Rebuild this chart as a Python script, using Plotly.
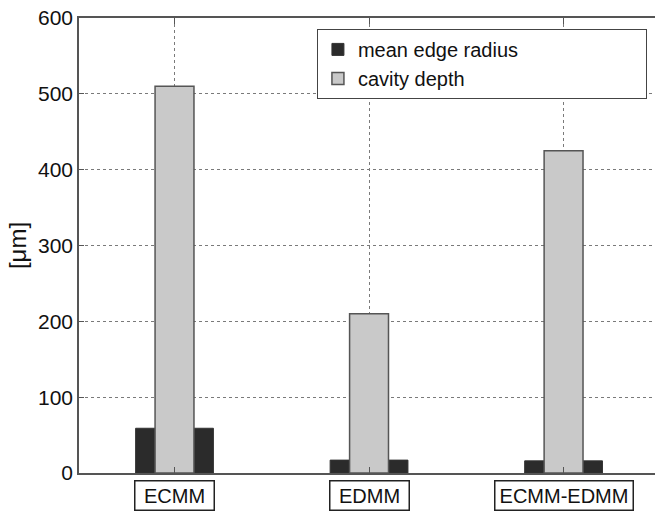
import plotly.graph_objects as go

categories = ["ECMM", "EDMM", "ECMM-EDMM"]
mean_edge_radius = [59, 17, 16]
cavity_depth = [510, 210, 425]
y_ticks = [0, 100, 200, 300, 400, 500, 600]
series_names = ["mean edge radius", "cavity depth"]

xpos = [1, 2, 3]
pad = "\u00a0" * 22

fig = go.Figure()
fig.add_trace(go.Bar(
    x=xpos, y=mean_edge_radius, name=series_names[0] + pad, width=0.40,
    marker=dict(color="#2b2b2b", line=dict(color="#333333", width=1)),
))
fig.add_trace(go.Bar(
    x=xpos, y=cavity_depth, name=series_names[1] + pad, width=0.20,
    marker=dict(color="#c9c9c9", line=dict(color="#555555", width=1.5)),
))

label_widths = [78, 78, 137]
for xp, cat, w in zip(xpos, categories, label_widths):
    fig.add_annotation(
        x=xp, xref="x", y=-0.0505, yref="paper", yanchor="middle",
        text=cat, showarrow=False, width=w, height=28,
        bordercolor="#222222", borderwidth=1.5, borderpad=0,
        bgcolor="white",
        font=dict(family="Liberation Sans, Arial", size=20, color="#111111"),
    )

fig.update_layout(
    width=655, height=511,
    margin=dict(l=79, r=0, t=18, b=38),
    paper_bgcolor="white", plot_bgcolor="white",
    barmode="overlay",
    font=dict(family="Liberation Sans, Arial", size=20, color="#111111"),
    legend=dict(
        x=0.986, xanchor="right", y=0.976, yanchor="top",
        bordercolor="#444444", borderwidth=1, bgcolor="white",
        font=dict(size=20), tracegroupgap=0,
    ),
    xaxis=dict(
        range=[0.509, 3.47], tickvals=xpos, showticklabels=False,
        ticks="inside", ticklen=6, tickcolor="#555555",
        showline=True, linecolor="#555555", linewidth=1.5, mirror="ticks",
        showgrid=True, gridcolor="#7a7a7a", griddash="dot", gridwidth=1,
        zeroline=False,
    ),
    yaxis=dict(
        range=[0, 600], tickvals=y_ticks,
        ticks="inside", ticklen=5, tickcolor="#555555",
        showline=True, linecolor="#555555", linewidth=1.5,
        showgrid=True, gridcolor="#7a7a7a", griddash="dot", gridwidth=1,
        zeroline=False,
        title=dict(text="[μm]", standoff=5,
                   font=dict(family="Liberation Sans, Arial", size=24, color="#111111")),
        tickfont=dict(size=21),
    ),
)

fig.write_html("out.html")
